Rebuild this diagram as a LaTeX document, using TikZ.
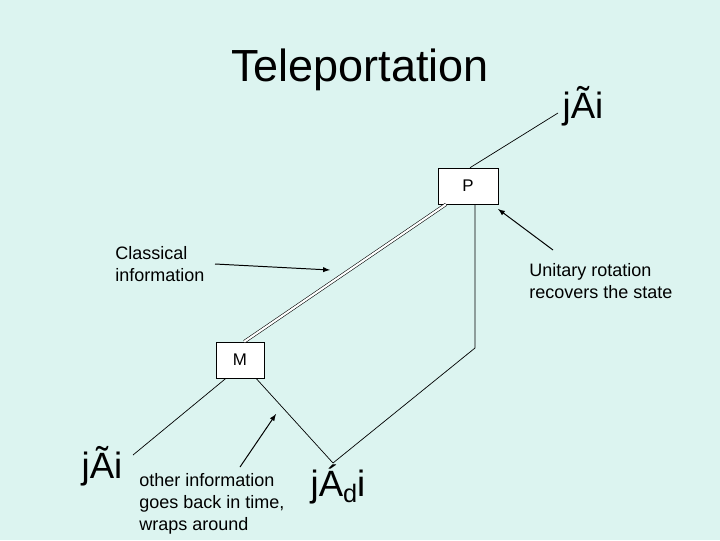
\documentclass[tikz,border=0pt]{standalone}
\usepackage{fontspec}
\setmainfont{Liberation Sans}
\usetikzlibrary{positioning}
\usetikzlibrary{calc}
\definecolor{bgcol}{RGB}{220,244,240}

\begin{document}
\begin{tikzpicture}[x=0.025cm,y=-0.025cm,
  box/.style={draw,fill=white,minimum width=1.5cm,minimum height=0.9cm,inner sep=0pt,font=\fontsize{12}{14}\selectfont},
  lbl/.style={align=left,inner sep=0pt,font=\fontsize{12.8}{15.8}\selectfont},
  ket/.style={inner sep=0pt,font=\fontsize{26}{30}\selectfont},
  wl/.style={line width=0.5pt},
  ar/.style={-latex,line width=0.7pt}]
\fill[bgcol] (0,0) rectangle (720,540);
\useasboundingbox (0,0) rectangle (720,540);
\node[inner sep=0pt,font=\fontsize{32}{36}\selectfont] (title) at (360,70) {Teleportation};
\node[box] (P) at (468,186) {P};
\node[box,minimum width=1.2cm] (M) at (240,360) {M};
\node[ket] (k1) at (583,106) {jÃi};
\node[ket] (k2) at (102,466) {jÃi};
\node[ket] (k3) at (338,484) {jÁ\raisebox{-0.35ex}{\fontsize{18}{20}\selectfont d}i};
\coordinate (top) at (558,113);
\coordinate (left) at (133,455);
\coordinate (bot) at (333,463);
\coordinate (rc) at (475,348);
% wires
\draw[wl] (P.north) ++(2,0) -- (top);
\draw[wl] (rc |- P.south) -- (rc) -- (bot);
\draw[wl] ([xshift=0.4cm]M.south) -- (bot);
\draw[wl] ([xshift=-0.35cm]M.south) -- (left);
\draw[double,double distance=1.5pt,line width=0.4pt] ([xshift=3pt]M.north) -- ([xshift=-0.55cm]P.south);
% labels
\node[lbl,anchor=north west] (cl) at (115,246) {Classical\\information};
\node[lbl,anchor=north west] (ur) at (529,263) {Unitary rotation\\recovers the state};
\node[lbl,anchor=north west] (oi) at (139,473) {other information\\goes back in time,\\wraps around};
\coordinate (ca) at (330,270);
\coordinate (ua) at (498,209);
\coordinate (oa) at (276,414);
\draw[ar] (215,264) -- (ca);
\draw[ar] (553,250) -- (ua);
\draw[ar] (240,467) -- (oa);
\end{tikzpicture}
\end{document}
